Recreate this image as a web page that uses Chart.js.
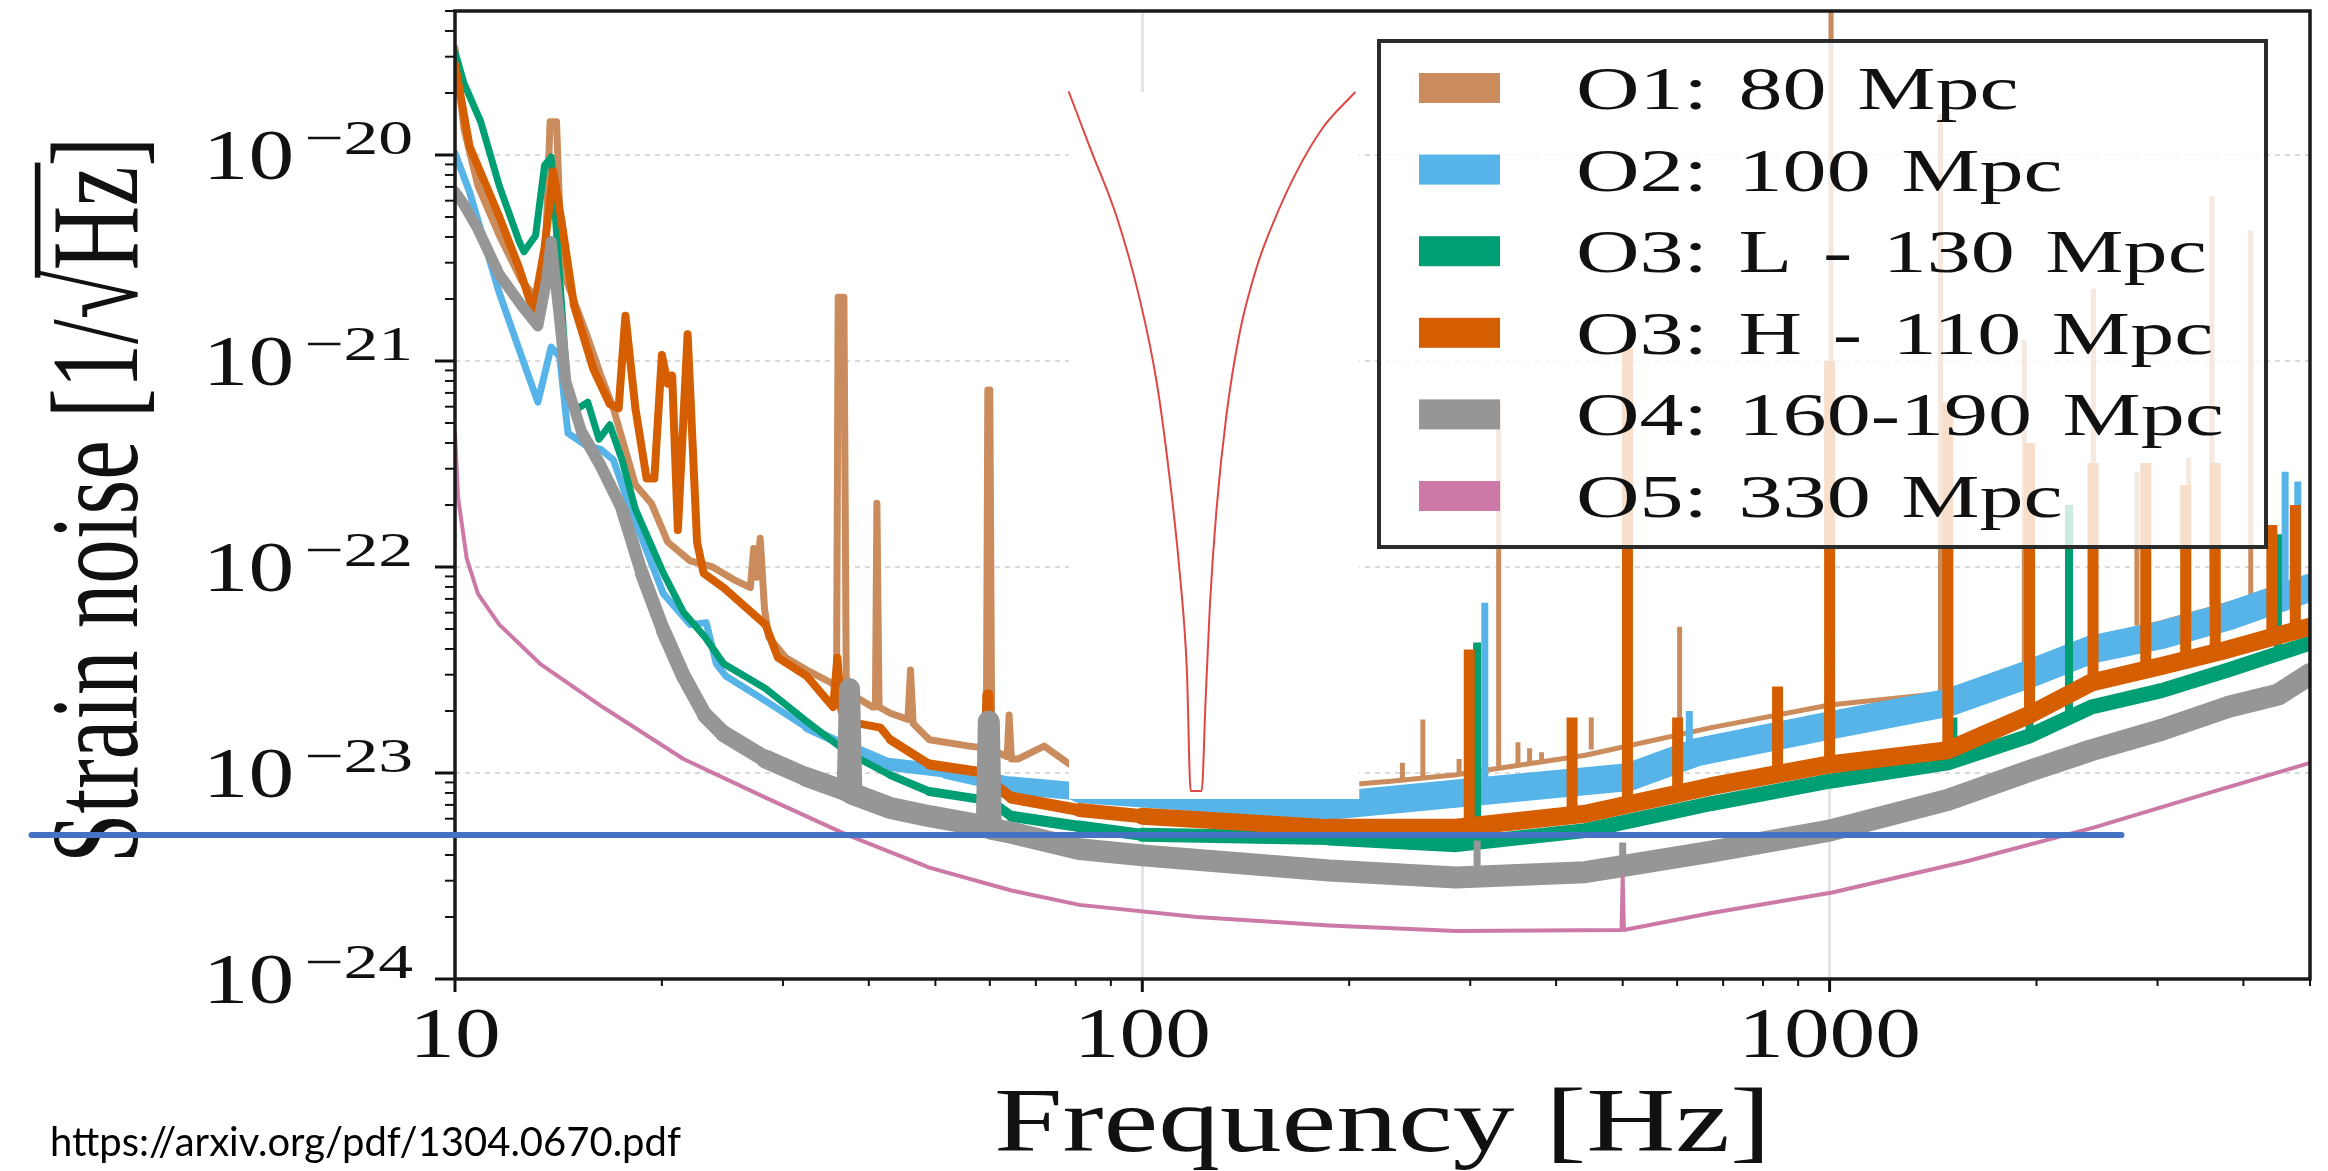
<!DOCTYPE html>
<html>
<head>
<meta charset="utf-8">
<title>Strain noise</title>
<script src="https://cdn.jsdelivr.net/npm/chart.js@4.4.1/dist/chart.umd.min.js"></script>
<style>
  html, body { margin: 0; padding: 0; background: #fff; }
  #wrap { position: relative; width: 2328px; height: 1171px; overflow: hidden; }
  #noise { position: absolute; left: 0; top: 0; }
  #source { position: absolute; left: 50px; top: 1121px; font: 40px Lato, "Open Sans", sans-serif; line-height: 1; color: #000; white-space: nowrap; }
</style>
</head>
<body>
<div id="wrap">
  <canvas id="noise" width="2328" height="1171"></canvas>
  <div id="source">https://arxiv.org/pdf/1304.0670.pdf</div>
</div>
<script>
// amplitude spectral density per observing run, frequency in Hz, strain in 1/sqrt(Hz)
const o1Freq = [10, 10.3, 10.8, 11.6, 12.5, 13.4, 13.6, 13.75, 14.05, 14.3, 15.5, 16.3, 17.0, 18.3, 19.3, 20.4, 22.0, 23.7, 25.4, 26.9,
  27.2, 27.5, 27.8, 28.2, 28.6, 30.3, 32.5, 35.2, 35.9, 36.1, 36.8, 37.1, 37.8, 40.5, 40.9, 41.1, 41.4, 43, 45.6, 46,
  46.4, 49, 56, 59.3, 59.6, 60.0, 60.4, 61.5, 63.6, 64.0, 64.5, 66, 72, 81, 100, 150, 187, 230, 286, 441,
  673, 1000, 1486, 1950, 2404, 3040, 3796, 5000];
const o1Strain = [3.31e-20, 1.35e-20, 7.08e-21, 4.07e-21, 2.45e-21, 1.86e-21, 5.01e-21, 1.45e-20, 1.45e-20, 2.82e-21,
  1.38e-21, 8.51e-22, 5.89e-22, 2.51e-22, 2.04e-22, 1.32e-22, 1.07e-22, 1.0e-22, 8.71e-23, 7.94e-23,
  1.23e-22, 8.91e-23, 1.38e-22, 6.31e-23, 4.57e-23, 3.63e-23, 3.16e-23, 2.75e-23, 2.63e-23, 2.04e-21,
  2.04e-21, 2.51e-23, 2.40e-23, 2.09e-23, 2.09e-23, 2.04e-22, 2.09e-23, 1.95e-23, 1.82e-23, 3.16e-23,
  1.74e-23, 1.45e-23, 1.35e-23, 1.32e-23, 7.24e-22, 7.24e-22, 1.26e-23, 1.26e-23, 1.20e-23, 1.91e-23,
  1.17e-23, 1.17e-23, 1.35e-23, 1.02e-23, 9.55e-24, 8.91e-24, 8.63e-24, 9.12e-24, 9.8e-24, 1.22e-23,
  1.66e-23, 2.14e-23, 2.45e-23, 3.24e-23, 4.47e-23, 5.37e-23, 6.61e-23, 8.32e-23];
const o1LineFreq = [239, 256, 289, 330, 352, 366, 381, 450, 605, 1005, 1450, 1920, 2420, 2800, 3330, 3600, 4100];
const o1LineFoot = [9.3e-24, 9.5e-24, 1.0e-23, 1.05e-23, 1.1e-23, 1.1e-23, 1.15e-23, 1.3e-23, 1.65e-23, 2.25e-23, 2.5e-23, 3.35e-23, 4.6e-23, 5.2e-23, 6.0e-23, 6.5e-23, 7.3e-23];
const o1LineTop = [1.12e-23, 1.82e-23, 1.17e-23, 6.3e-22, 1.41e-23, 1.32e-23, 1.26e-23, 1.86e-23, 5.13e-23, 1e-19, 1.58e-20, 1.26e-21, 2.24e-21, 2.9e-22, 3.4e-22, 6.3e-21, 4.3e-21];

const o2Freq = [10, 10.5, 11.6, 12.5, 13.2, 13.8, 14.2, 14.6, 15.5, 16.3, 17.0, 18.0, 20.1, 22.0, 23.2, 24.0, 24.8, 28.3, 32.5, 37.2,
  43, 52, 64.5, 81, 120, 187, 330, 510, 640, 1000, 1486, 1950, 2404, 3040, 3796, 5000];
const o2Strain = [1.02e-20, 6.61e-21, 2.14e-21, 1.05e-21, 6.31e-22, 1.17e-21, 1.05e-21, 4.47e-22, 3.89e-22, 3.72e-22,
  3.31e-22, 1.91e-22, 7.41e-23, 5.25e-23, 5.37e-23, 3.39e-23, 2.95e-23, 2.24e-23, 1.66e-23, 1.35e-23,
  1.10e-23, 1.02e-23, 8.71e-24, 8.13e-24, 7.41e-24, 6.92e-24, 8.32e-24, 9.55e-24, 1.26e-23, 1.70e-23,
  2.19e-23, 3.02e-23, 3.98e-23, 4.68e-23, 5.75e-23, 7.94e-23];
const o2LineFreq = [315, 625, 4600, 4800];
const o2LineFoot = [8.5e-24, 1.2e-23, 7.4e-23, 7.7e-23];
const o2LineTop = [6.7e-23, 2.0e-23, 2.9e-22, 2.6e-22];

const o3lFreq = [10, 10.3, 10.9, 11.6, 12.4, 12.6, 13.1, 13.5, 13.8, 14.0, 14.6, 15.1, 15.6, 16.2, 16.8, 17.5, 18.3, 20.1, 21.5, 23.1,
  24.6, 28.3, 32.5, 37.2, 43, 49, 56, 59.5, 59.8, 60.1, 64.5, 81, 100, 187, 286, 441, 673, 1000, 1486, 1950,
  2404, 3040, 3796, 5000];
const o3lStrain = [3.16e-20, 2.24e-20, 1.45e-20, 7.08e-21, 3.80e-21, 3.39e-21, 4.07e-21, 8.91e-21, 9.77e-21, 5.0e-21,
  6.76e-22, 5.89e-22, 6.31e-22, 4.17e-22, 4.90e-22, 3.31e-22, 1.91e-22, 9.33e-23, 6.03e-23, 4.57e-23,
  3.39e-23, 2.57e-23, 1.78e-23, 1.26e-23, 9.77e-24, 8.13e-24, 7.59e-24, 7.4e-24, 8.71e-24, 7.3e-24,
  6.17e-24, 5.50e-24, 5.01e-24, 4.84e-24, 4.49e-24, 5.25e-24, 7.11e-24, 9.12e-24, 1.12e-23, 1.51e-23,
  2.09e-23, 2.51e-23, 3.16e-23, 4.27e-23];
const o3lLineFreq = [307, 1514, 1954, 2230, 4490];
const o3lLineFoot = [4.5e-24, 1.25e-23, 1.5e-23, 1.8e-23, 3.9e-23];
const o3lLineTop = [4.3e-23, 1.86e-23, 1.05e-22, 2.0e-22, 1.44e-22];

const o3hFreq = [10, 10.5, 11.6, 12.4, 13.0, 13.5, 13.9, 14.3, 14.9, 15.9, 16.8, 17.3, 17.7, 18.3, 19.0, 19.5, 20.0, 20.4, 20.7, 21.1,
  21.8, 22.5, 23.0, 24.6, 28.3, 29.5, 32.5, 35.5, 36.0, 36.5, 37.2, 41.6, 43, 49, 59.3, 59.6, 60.2, 61, 64.5, 81,
  100, 187, 286, 441, 673, 1000, 1486, 1950, 2404, 3040, 3796, 5000];
const o3hStrain = [2.75e-20, 1.10e-20, 5.01e-21, 2.82e-21, 1.74e-21, 3.55e-21, 8.32e-21, 4.68e-21, 1.86e-21, 9.12e-22,
  6.17e-22, 5.89e-22, 1.66e-21, 5.89e-22, 2.69e-22, 2.69e-22, 1.07e-21, 7.76e-22, 8.51e-22, 1.51e-22,
  1.35e-21, 1.32e-22, 9.33e-23, 7.94e-23, 5.25e-23, 3.63e-23, 2.95e-23, 2.09e-23, 3.63e-23, 2.0e-23,
  1.78e-23, 1.66e-23, 1.45e-23, 1.10e-23, 1.0e-23, 2.40e-23, 9.33e-24, 8.71e-24, 7.59e-24, 6.61e-24,
  6.17e-24, 5.43e-24, 5.43e-24, 6.34e-24, 8.63e-24, 1.10e-23, 1.29e-23, 1.91e-23, 2.75e-23, 3.31e-23,
  3.98e-23, 5.13e-23];
const o3hLineFreq = [299, 422, 508, 601, 840, 1000, 1486, 1954, 2417, 2884, 3297, 3640, 4400, 4760];
const o3hLineFoot = [5.4e-24, 6.2e-24, 7.0e-24, 8.0e-24, 9.8e-24, 1.1e-23, 1.29e-23, 1.91e-23, 2.75e-23, 3.1e-23, 3.5e-23, 3.9e-23, 4.5e-23, 4.8e-23];
const o3hLineTop = [3.98e-23, 1.86e-23, 1.15e-21, 1.86e-23, 2.63e-23, 1.0e-21, 6.3e-22, 4.0e-22, 3.2e-22, 3.2e-22, 2.5e-22, 3.2e-22, 1.6e-22, 2.0e-22];

const o4Freq = [10, 10.3, 10.8, 11.6, 12.5, 13.2, 13.6, 13.8, 14.2, 14.5, 15.3, 16.3, 17.5, 18.7, 20.1, 21.5, 23.1, 24.6, 28.3, 32.5,
  37.2, 37.5, 37.8, 43, 49, 59.4, 59.8, 60.2, 64.5, 81, 100, 187, 286, 441, 673, 1000, 1486, 1950, 2404, 3040,
  3796, 4490, 5000];
const o4Strain = [6.61e-21, 5.75e-21, 4.37e-21, 2.63e-21, 1.86e-21, 1.48e-21, 2.51e-21, 3.80e-21, 1.58e-21, 7.94e-22,
  4.47e-22, 3.09e-22, 1.91e-22, 9.33e-23, 4.90e-23, 2.95e-23, 1.91e-23, 1.55e-23, 1.17e-23, 9.55e-24,
  8.13e-24, 2.57e-23, 7.94e-24, 6.76e-24, 6.17e-24, 5.50e-24, 1.78e-23, 5.37e-24, 5.13e-24, 4.27e-24,
  3.98e-24, 3.36e-24, 3.11e-24, 3.30e-24, 4.15e-24, 5.25e-24, 7.41e-24, 1.02e-23, 1.29e-23, 1.62e-23,
  2.09e-23, 2.40e-23, 3.02e-23];
const o4LineFreq = [307, 500];
const o4LineFoot = [3.1e-24, 3.3e-24];
const o4LineTop = [4.7e-24, 4.6e-24];

const o5Freq = [10, 10.1, 10.4, 10.8, 11.6, 13.3, 16.4, 21.5, 28.3, 37.2, 49, 64.5, 81, 120, 187, 286, 498, 500, 502, 673,
  1009, 1578, 2421, 3707, 5000];
const o5Strain = [4.5e-22, 2.2e-22, 1.1e-22, 7.41e-23, 5.25e-23, 3.39e-23, 2.09e-23, 1.17e-23, 7.59e-24, 5.01e-24,
  3.47e-24, 2.69e-24, 2.29e-24, 2.0e-24, 1.82e-24, 1.71e-24, 1.73e-24, 3.13e-24, 1.73e-24, 2.09e-24,
  2.63e-24, 3.72e-24, 5.43e-24, 8.32e-24, 1.12e-23];

// hand-drawn notch sketch, the white patch under it, and the horizontal marker line
const notchFreq = [78.2, 83.9, 91.8, 99.2, 105.0, 109.6, 113.4, 116.1, 117.6, 122.0, 123.6, 125.4, 128.2, 132.6, 138.7, 146.6, 155.0, 167.6, 183.2, 203.8];
const notchStrain = [2.02e-20, 1.09e-20, 5.0e-21, 1.98e-21, 7.8e-22, 2.7e-22, 9.25e-23, 3.16e-23, 8.18e-24, 8.18e-24,
  2.22e-23, 6.47e-23, 1.89e-22, 5.5e-22, 1.39e-21, 2.83e-21, 4.67e-21, 8.26e-21, 1.36e-20, 2.01e-20];
const patchFreq = [78.2, 207];
const patchTop = 2.02e-20;
const patchBottom = 7.48e-24;
const markerFreq = [2.42, 2659];
const markerStrain = 5.0e-24;

const seriesLabels = ['O1: 80 Mpc', 'O2: 100 Mpc', 'O3: L - 130 Mpc', 'O3: H - 110 Mpc', 'O4: 160-190 Mpc', 'O5: 330 Mpc'];
const seriesColors = ['rgb(202,140,92)', 'rgb(86,180,233)', 'rgb(0,158,115)', 'rgb(213,94,0)', 'rgb(150,150,150)', 'rgb(204,121,167)'];

const xTickValues = [10, 100, 1000];
const xTickLabels = ['10', '100', '1000'];
const yTickExponents = [-24, -23, -22, -21, -20];

const SERIF = '"Liberation Serif", "DejaVu Serif", serif';

const pts = (fs, hs) => fs.map((f, i) => ({x: f, y: hs[i]}));
// each narrow line is its own vertical stroke, split by a gap
const linePts = (fs, feet, tops) => fs.flatMap((f, i) => [{x: f, y: feet[i]}, {x: f, y: tops[i]}, {x: f, y: null}]);

// noise makes the traces look wider toward high frequency
function widen(thin, thick, f0, f1) {
  return c => {
    const f = Math.sqrt(c.p0.parsed.x * c.p1.parsed.x);
    const t = Math.min(1, Math.max(0, Math.log10(f / f0) / Math.log10(f1 / f0)));
    return Math.round(thin + (thick - thin) * t);
  };
}

function trace(i, fs, hs, order, thin, thick, f0, f1) {
  return {
    label: seriesLabels[i], inLegend: true, data: pts(fs, hs),
    borderColor: seriesColors[i], backgroundColor: seriesColors[i],
    borderWidth: thin, order,
    segment: { borderWidth: widen(thin, thick, f0, f1) }
  };
}
function lines(i, fs, feet, tops, order, width) {
  return { data: linePts(fs, feet, tops), borderColor: seriesColors[i], borderWidth: width, borderCapStyle: 'butt', order };
}

const datasets = [
  trace(0, o1Freq, o1Strain, 60, 7, 5, 60, 200),
  lines(0, o1LineFreq, o1LineFoot, o1LineTop, 61, 5),
  trace(1, o2Freq, o2Strain, 50, 7, 28, 30, 150),
  lines(1, o2LineFreq, o2LineFoot, o2LineTop, 51, 7),
  trace(2, o3lFreq, o3lStrain, 40, 7, 15, 40, 150),
  lines(2, o3lLineFreq, o3lLineFoot, o3lLineTop, 41, 8),
  trace(3, o3hFreq, o3hStrain, 30, 8, 18, 40, 150),
  lines(3, o3hLineFreq, o3hLineFoot, o3hLineTop, 31, 11),
  trace(4, o4Freq, o4Strain, 20, 11, 22, 15, 40),
  lines(4, o4LineFreq, o4LineFoot, o4LineTop, 21, 7),
  trace(5, o5Freq, o5Strain, 10, 3.5, 3.5, 10, 20),
  { data: pts(patchFreq, [patchTop, patchTop]), fill: { value: patchBottom }, backgroundColor: '#fff', borderWidth: 0, order: 3 },
  { data: pts(notchFreq, notchStrain), borderColor: 'rgb(222,72,68)', borderWidth: 2, cubicInterpolationMode: 'monotone', order: 2 },
  { data: pts(markerFreq, [markerStrain, markerStrain]), borderColor: 'rgb(68,114,196)', borderWidth: 6, clip: false, order: 1, marker: true }
];

// serif text with a horizontal stretch
function stretchedText(ctx, text, x, y, px, sx, align) {
  ctx.font = px + 'px ' + SERIF;
  const w = ctx.measureText(text).width * sx;
  const x0 = align === 'right' ? x - w : align === 'center' ? x - w / 2 : x;
  ctx.save();
  ctx.translate(x0, y);
  ctx.scale(sx, 1);
  ctx.textAlign = 'left';
  ctx.textBaseline = 'alphabetic';
  ctx.fillText(text, 0, 0);
  ctx.restore();
  return w;
}

const TICK_PX = 72, TICK_SX = 1.27, SUP_PX = 48, SUP_SX = 1.45;

function drawAxesText(chart) {
  const {ctx, chartArea: a, scales: {x, y}} = chart;
  ctx.save();
  ctx.fillStyle = '#111';
  ctx.strokeStyle = '#111';

  // y ticks, majors at each decade
  for (let e = yTickExponents[0]; e <= yTickExponents[yTickExponents.length - 1]; e++) {
    for (let m = 1; m <= 9; m++) {
      const v = m * Math.pow(10, e);
      if (v > y.max * 1.0001) break;
      const py = y.getPixelForValue(v);
      ctx.lineWidth = m === 1 ? 3 : 2;
      ctx.beginPath();
      ctx.moveTo(a.left - (m === 1 ? 20 : 10), py);
      ctx.lineTo(a.left, py);
      ctx.stroke();
    }
  }
  // x ticks
  for (const d of xTickValues) {
    for (let m = 1; m <= 9; m++) {
      const v = m * d;
      if (v > x.max * 1.0001) break;
      const px = x.getPixelForValue(v);
      ctx.lineWidth = m === 1 ? 3 : 2;
      ctx.beginPath();
      ctx.moveTo(px, a.bottom);
      ctx.lineTo(px, a.bottom + (m === 1 ? 13 : 7));
      ctx.stroke();
    }
  }

  // y tick labels: 10 with a raised exponent
  for (const e of yTickExponents) {
    const py = y.getPixelForValue(Math.pow(10, e));
    const sup = '\u2212' + Math.abs(e);
    ctx.font = SUP_PX + 'px ' + SERIF;
    const ws = ctx.measureText(sup).width * SUP_SX;
    const right = a.left - 42;
    stretchedText(ctx, sup, right - ws, py - 1, SUP_PX, SUP_SX, 'left');
    stretchedText(ctx, '10', right - ws - 10, py + 24, TICK_PX, TICK_SX, 'right');
  }
  // x tick labels
  xTickValues.forEach((v, i) => {
    stretchedText(ctx, xTickLabels[i], x.getPixelForValue(v), a.bottom + 78, TICK_PX, TICK_SX, 'center');
  });

  // axis titles
  stretchedText(ctx, 'Frequency [Hz]', (a.left + a.right) / 2, 1151, 90, 1.37, 'center');

  const title = 'Strain noise [1/\u221AHz]';
  const tpx = 89, tsy = 1.4;
  ctx.save();
  ctx.translate(137, (a.top + a.bottom) / 2 + 5);
  ctx.rotate(-Math.PI / 2);
  ctx.scale(1, tsy);
  ctx.font = tpx + 'px ' + SERIF;
  const tw = ctx.measureText(title).width;
  ctx.textBaseline = 'alphabetic';
  ctx.fillText(title, -tw / 2, 0);
  // vinculum over Hz
  const pre = ctx.measureText('Strain noise [1/').width;
  const rad = ctx.measureText('\u221A').width;
  const hz = ctx.measureText('Hz').width;
  ctx.fillRect(-tw / 2 + pre + rad * 0.85, -tpx * 0.82, rad * 0.15 + hz + 4, tpx * 0.045);
  ctx.restore();

  ctx.restore();
}

function drawFrameAndKey(chart) {
  const {ctx, chartArea: a} = chart;
  ctx.save();
  ctx.strokeStyle = '#1a1a1a';
  ctx.lineWidth = 3.5;
  ctx.strokeRect(a.left, a.top, a.right - a.left, a.bottom - a.top);

  const L = {left: 1379, top: 41, right: 2266, bottom: 547, row0: 88, step: 81.6, swX: 1419, swW: 81, swH: 30, textX: 1576, px: 62, sx: 1.42};
  ctx.fillStyle = 'rgba(255,255,255,0.8)';
  ctx.fillRect(L.left, L.top, L.right - L.left, L.bottom - L.top);
  ctx.strokeStyle = '#2b2b2b';
  ctx.lineWidth = 4;
  ctx.strokeRect(L.left, L.top, L.right - L.left, L.bottom - L.top);
  chart.data.datasets.filter(d => d.inLegend).forEach((d, i) => {
    const cy = L.row0 + i * L.step;
    ctx.fillStyle = d.borderColor;
    ctx.fillRect(L.swX, cy - L.swH / 2, L.swW, L.swH);
    ctx.fillStyle = '#111';
    ctx.wordSpacing = '6px';
    stretchedText(ctx, d.label, L.textX, cy + 21, L.px, L.sx, 'left');
  });
  ctx.restore();
}

const axesDecor = {
  id: 'axesDecor',
  beforeDatasetsDraw(chart) { drawAxesText(chart); },
  beforeDatasetDraw(chart, args) {
    if (chart.data.datasets[args.index].marker) drawFrameAndKey(chart);
  }
};

new Chart(document.getElementById('noise'), {
  type: 'line',
  data: { datasets },
  options: {
    responsive: false,
    animation: false,
    devicePixelRatio: 1,
    layout: { padding: { left: 455, right: 18, top: 11, bottom: 192 } },
    plugins: { legend: { display: false }, tooltip: { enabled: false } },
    elements: {
      point: { radius: 0 },
      line: { tension: 0, borderCapStyle: 'round', borderJoinStyle: 'round' }
    },
    scales: {
      x: {
        type: 'logarithmic', min: 10, max: 5000,
        afterBuildTicks: s => { s.ticks = xTickValues.map(v => ({value: v})); },
        ticks: { display: false },
        grid: { color: 'rgba(0,0,0,0.1)', lineWidth: 3, drawTicks: false },
        border: { display: false }
      },
      y: {
        type: 'logarithmic', min: 1e-24, max: 5e-20,
        afterBuildTicks: s => { s.ticks = yTickExponents.map(e => ({value: Math.pow(10, e)})); },
        ticks: { display: false },
        grid: { color: 'rgba(0,0,0,0.14)', lineWidth: 2, drawTicks: false },
        border: { display: false, dash: [5, 5] }
      }
    }
  },
  plugins: [axesDecor]
});
</script>
</body>
</html>
